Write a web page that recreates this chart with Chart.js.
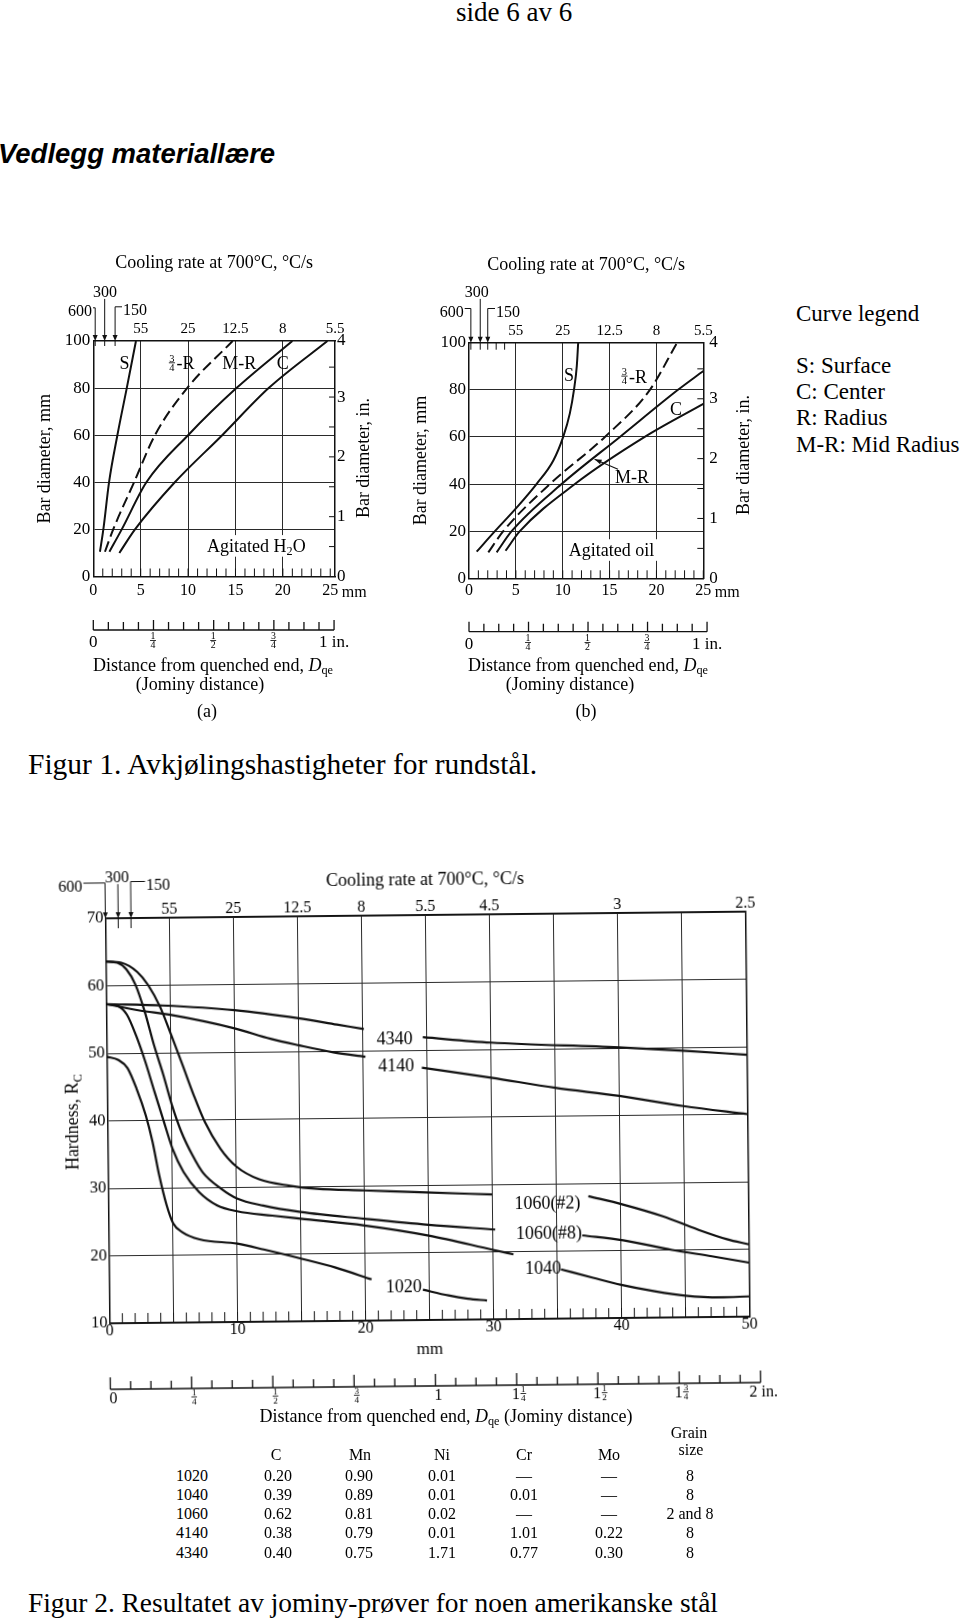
<!DOCTYPE html>
<html><head><meta charset="utf-8">
<script src="https://cdn.jsdelivr.net/npm/chart.js@4.4.0/dist/chart.umd.min.js"></script>
<style>
html,body{margin:0;padding:0;background:#fff;}
body{width:960px;height:1622px;position:relative;overflow:hidden;font-family:'Liberation Serif','Times New Roman',serif;color:#000;}
.t{position:absolute;white-space:nowrap;line-height:1;}
.c{transform:translateX(-50%);}
canvas{position:absolute;}
sub{font-size:68%;vertical-align:-0.25em;line-height:0;}
</style></head><body>

<div class="t" style="left:456px;top:-1px;font-size:27px;">side 6 av 6</div>
<div class="t" style="left:-2px;top:140px;font-size:27.5px;font-family:'Liberation Sans',Arial,sans-serif;font-weight:bold;font-style:italic;">Vedlegg materiallære</div>

<div class="t" style="left:796px;top:302px;font-size:23px;">Curve legend</div>
<div class="t" style="left:796px;top:354px;font-size:23px;">S: Surface</div>
<div class="t" style="left:796px;top:380px;font-size:23px;">C: Center</div>
<div class="t" style="left:796px;top:406px;font-size:23px;">R: Radius</div>
<div class="t" style="left:796px;top:433px;font-size:23px;">M-R: Mid Radius</div>

<canvas id="ca" width="390" height="420" style="left:0px;top:240px;"></canvas>
<canvas id="cb" width="390" height="420" style="left:380px;top:240px;"></canvas>

<div class="t c" style="left:213px;top:656px;font-size:18px;">Distance from quenched end, <i>D</i><sub>qe</sub></div>
<div class="t c" style="left:200px;top:675px;font-size:18px;">(Jominy distance)</div>
<div class="t c" style="left:207px;top:702px;font-size:18px;">(a)</div>
<div class="t c" style="left:588px;top:656px;font-size:18px;">Distance from quenched end, <i>D</i><sub>qe</sub></div>
<div class="t c" style="left:570px;top:675px;font-size:18px;">(Jominy distance)</div>
<div class="t c" style="left:586px;top:702px;font-size:18px;">(b)</div>

<div class="t" style="left:28px;top:750px;font-size:29.5px;">Figur 1. Avkjølingshastigheter for rundstål.</div>

<canvas id="cj" width="800" height="580" style="left:0px;top:840px;transform-origin:427.5px 277.5px;transform:rotate(-0.6deg);"></canvas>
<div class="t c" style="left:446px;top:1407px;font-size:18px;">Distance from quenched end, <i>D</i><sub>qe</sub> (Jominy distance)</div>

<div id="tbl"></div>

<div class="t" style="left:28px;top:1590px;font-size:27.4px;">Figur 2. Resultatet av jominy-prøver for noen amerikanske stål</div>

<script>
// ---------------- DATA ----------------
// Figure 1(a): agitated water. [Jominy distance mm, bar diameter mm]
const aS  = [[0.7,10.5],[1.06,20],[1.66,40],[2.54,60],[3.53,80],[4.5,100]];
const aQR = [[1.23,10.5],[2.1,20],[4.3,40],[6.5,60],[9.9,80],[14.7,100]];
const aMR = [[1.7,10.5],[3.0,20],[5.6,40],[10.0,60],[15.1,80],[21.0,100]];
const aC  = [[2.75,10],[4.4,20],[8.6,40],[13.6,60],[18.5,80],[24.7,100]];
// Figure 1(b): agitated oil
const bS  = [[0.82,11.3],[2.77,20],[5.08,30],[7.2,40],[9.0,50],[10.05,60],[10.76,70],[11.2,80],[11.5,90],[11.65,100]];
const bQR = [[2.06,11],[3.66,20],[8.63,40],[14.5,60],[19.3,80],[22.2,100]];
const bMR = [[2.95,11],[4.55,20],[9.88,40],[16.1,60],[22.3,80],[25,88]];
const bC  = [[3.9,11.7],[5.43,20],[11.3,40],[18.75,60],[25,74]];
// Figure 1 tick labels
const xTicks1 = [0,5,10,15,20,25];
const yTicks1 = [0,20,40,60,80,100];
const coolLab1 = ['55','25','12.5','8','5.5'];
const coolPosA = [5,10,15,20,25.5];
const coolPosB = [5,10,15,20,25];
const inchLab1 = ['0','1','2','3','4'];

// Figure 2: Jominy curves [distance mm, hardness HRC]; null = label gap
const j4340 = [[0,57.3],[4.4,57.0],[10,56.2],[15,54.9],[18,53.9],[20.1,53.2],[22.4,null],[24.7,51.9],[30,51.0],[40,50.1],[45,49.5],[50,48.8]];
const j4140 = [[0,57.3],[2.6,56.3],[5,55.6],[10,53.5],[12.8,51.9],[15,50.9],[17.7,49.8],[20.2,49.1],[22.4,null],[24.6,47.4],[30,45.8],[35,44.2],[40,42.9],[45,41.3],[50,40.0]];
const j1060n2 = [[0,63.6],[1.2,63.4],[2.45,62.0],[3.3,60.0],[4.2,56.8],[5.05,52.6],[5.9,48.2],[6.75,43.7],[7.6,39.7],[8.8,35.7],[10.05,33.0],[11.8,31.1],[14.2,30.1],[16.3,29.6],[20,29.3],[24.8,28.9],[30,28.5],[34,null],[37.5,28.1],[40.2,26.8],[43.3,25.0],[46,23.0],[48.3,21.5],[50,20.7]];
const j1060n8 = [[0,63.6],[0.9,63.4],[1.6,62.4],[2.3,60.1],[3.0,56.1],[3.7,51.1],[4.4,46.7],[5.05,42.2],[5.75,38.3],[6.6,34.8],[7.4,32.2],[8.8,29.8],[10.05,28.3],[12.1,27.2],[15,26.2],[20,25.1],[25,24.1],[30.2,23.3],[34,null],[37,22.3],[40.2,21.5],[44,20.0],[47.1,19.0],[50,18.0]];
const j1040 = [[0,57.3],[0.9,57.0],[1.6,55.7],[2.3,52.6],[3.0,48.7],[3.7,44.2],[4.4,39.8],[5.05,35.8],[5.9,32.3],[7.1,29.3],[8.5,27.3],[10.05,26.4],[12.8,25.7],[15,25.2],[20,24.1],[25,22.5],[30,20.3],[31.6,19.6],[33.5,null],[35.3,17.3],[37.8,16.0],[40,14.9],[42.6,13.9],[45,13.2],[47.7,12.9],[50,13.0]];
const j1020 = [[0,49.5],[0.9,49.0],[1.6,47.8],[2.3,44.7],[3.0,40.7],[3.5,36.8],[4.0,31.8],[4.55,27.4],[5.05,24.7],[5.75,23.4],[7.1,22.3],[10.05,21.6],[12.1,20.7],[15,19.3],[17.7,17.9],[20.5,16.1],[22.5,null],[24.5,14.5],[26.5,13.6],[28,13.1],[29.5,12.8]];
const xTicksJ = [0,5,10,15,20,25,30,35,40,45,50];
const yTicksJ = [10,20,30,40,50,60,70];
const coolPosJ = [5,10,15,20,25,30,40,50];
const coolLabJ = ['55','25','12.5','8','5.5','4.5','3','2.5'];

// Composition table
const steels = ['1020','1040','1060','4140','4340'];
const pctC  = ['0.20','0.39','0.62','0.38','0.40'];
const pctMn = ['0.90','0.89','0.81','0.79','0.75'];
const pctNi = ['0.01','0.01','0.02','0.01','1.71'];
const pctCr = ['—','0.01','—','1.01','0.77'];
const pctMo = ['—','—','—','0.22','0.30'];
const grain = ['8','8','2 and 8','8','8'];

// ---------------- HELPERS ----------------
const SERIF = "'Liberation Serif','Times New Roman',serif";
const INK = '#111';
const GRID = '#2a2a2a';
const F = (s, lh) => ({family: SERIF, size: s, lineHeight: lh || 1.2});
const xy = arr => arr.map(p => ({x: p[0], y: p[1]}));
const fixW = w => s => { s.width = w; };
const fixH = h => s => { s.height = h; };
const setTicks = vals => s => { s.ticks = vals.map(v => ({value: v})); };
const gridAt = vals => c => (c.tick && vals.indexOf(c.tick.value) >= 0) ? GRID : 'rgba(0,0,0,0)';
function ds(arr, dash, w) {
  return {data: xy(arr), borderColor: INK, borderWidth: w || 2, borderDash: dash || [], pointRadius: 0,
    fill: false, cubicInterpolationMode: 'monotone', spanGaps: false, xAxisID: 'x', yAxisID: 'y'};
}
const range = (a, b, s) => { const r = []; for (let v = a; v <= b + 1e-9; v += s) r.push(+v.toFixed(4)); return r; };
const FR = (n, d) => ({f: [n, d]});

function measureSegs(ctx, segs, size, fam) {
  let w = 0; const parts = [];
  segs.forEach(sg => {
    if (typeof sg === 'string') { ctx.font = size + 'px ' + fam; const ww = ctx.measureText(sg).width; parts.push({k: 't', t: sg, w: ww, font: ctx.font}); w += ww; }
    else if (sg.sub) { ctx.font = (size * 0.68) + 'px ' + fam; const ww = ctx.measureText(sg.t).width; parts.push({k: 's', t: sg.t, w: ww, font: ctx.font}); w += ww; }
    else if (sg.f) { const fs = size * 0.58; ctx.font = fs + 'px ' + fam; const ww = Math.max(ctx.measureText(sg.f[0]).width, ctx.measureText(sg.f[1]).width) + 2; parts.push({k: 'f', n: sg.f[0], d: sg.f[1], w: ww, font: ctx.font, fs: fs}); w += ww + 1; }
  });
  return {w, parts};
}
function drawRich(ctx, segs, x, y, o) {
  o = o || {};
  const size = o.size || 18, fam = o.fam || SERIF;
  const list = typeof segs === 'string' ? [segs] : segs;
  ctx.save();
  ctx.translate(x, y); if (o.rot) ctx.rotate(o.rot);
  const m = measureSegs(ctx, list, size, fam);
  let x0 = -m.w / 2;
  if (o.align === 'left') x0 = 0; else if (o.align === 'right') x0 = -m.w; else if (o.align === 'first') x0 = -m.parts[0].w / 2;
  const yb = size * 0.33;
  if (o.bg) { ctx.fillStyle = '#fff'; ctx.fillRect(x0 - 4, -size * 0.6, m.w + 8, size * 1.2); }
  ctx.fillStyle = '#000'; ctx.textBaseline = 'alphabetic'; ctx.textAlign = 'left';
  let cx = x0;
  m.parts.forEach(p => {
    ctx.font = p.font;
    if (p.k === 't') ctx.fillText(p.t, cx, yb);
    else if (p.k === 's') ctx.fillText(p.t, cx, yb + size * 0.2);
    else {
      const bar = yb - size * 0.36;
      const w1 = ctx.measureText(p.n).width, w2 = ctx.measureText(p.d).width;
      ctx.fillText(p.n, cx + (p.w - w1) / 2, bar - p.fs * 0.12);
      ctx.fillText(p.d, cx + (p.w - w2) / 2, bar + p.fs * 0.12 + p.fs * 0.68);
      ctx.fillRect(cx + 0.5, bar - 0.4, p.w - 1, 0.8);
      cx += 1;
    }
    cx += p.w;
  });
  ctx.restore();
}

// decoration plugin (config kept in a closure, not in Chart.js options)
function makeDeco(o) {
  return {
    id: 'deco',
    afterDraw(chart) {
      const ctx = chart.ctx, ca = chart.chartArea;
      ctx.save();
      ctx.strokeStyle = INK; ctx.fillStyle = INK;
      (o.inTicks || []).forEach(t => {
        const sc = chart.scales[t.axis];
        ctx.lineWidth = t.w || 1;
        ctx.beginPath();
        t.values.forEach(v => {
          const p = sc.getPixelForValue(v);
          if (t.edge === 'bottom') { ctx.moveTo(p, ca.bottom); ctx.lineTo(p, ca.bottom - t.len); }
          else if (t.edge === 'top') { ctx.moveTo(p, ca.top); ctx.lineTo(p, ca.top + t.len); }
          else if (t.edge === 'right') { ctx.moveTo(ca.right, p); ctx.lineTo(ca.right - t.len, p); }
        });
        ctx.stroke();
      });
      if (o.ruler) {
        const r = o.ruler, sc = chart.scales.x;
        const X = v => sc.getPixelForValue(v * 25.4);
        ctx.lineWidth = 1.3;
        ctx.beginPath(); ctx.moveTo(X(0), r.y); ctx.lineTo(X(r.max), r.y);
        for (let i = 0; i <= r.max * 16; i++) { const L = (i % 4 === 0) ? r.big : r.small; ctx.moveTo(X(i / 16), r.y); ctx.lineTo(X(i / 16), r.y - L); }
        ctx.stroke();
        r.labels.forEach(l => drawRich(ctx, l.s, X(l.v) + (r.ldx || 0), r.ly, {size: r.size, align: l.align}));
      }
      (o.arrows || []).forEach(a => {
        const X = chart.scales.x.getPixelForValue(a.v);
        drawRich(ctx, a.text, a.tx, a.ty, {size: a.size});
        ctx.font = a.size + 'px ' + SERIF; const tw = ctx.measureText(a.text).width;
        ctx.lineWidth = 1; ctx.beginPath();
        if (a.kind === 'up') ctx.moveTo(X, a.ty + a.size * 0.45);
        else if (a.kind === 'left') { const yy = a.ty - a.size * 0.2; ctx.moveTo(a.tx + tw / 2 + 1, yy); ctx.lineTo(X, yy); }
        else { const yy = a.ty - a.size * 0.2; ctx.moveTo(a.tx - tw / 2 - 1, yy); ctx.lineTo(X, yy); }
        ctx.lineTo(X, ca.top - 4); ctx.stroke();
        ctx.beginPath(); ctx.moveTo(X, ca.top); ctx.lineTo(X - 2.5, ca.top - 6); ctx.lineTo(X + 2.5, ca.top - 6); ctx.closePath(); ctx.fill();
      });
      (o.leaders || []).forEach(l => {
        const sx = chart.scales.x, sy = chart.scales.y;
        const x1 = sx.getPixelForValue(l.x1), y1 = sy.getPixelForValue(l.y1), x2 = sx.getPixelForValue(l.x2), y2 = sy.getPixelForValue(l.y2);
        ctx.lineWidth = 1.1; ctx.beginPath(); ctx.moveTo(x1, y1); ctx.lineTo(x2, y2); ctx.stroke();
        const ang = Math.atan2(y2 - y1, x2 - x1);
        ctx.beginPath(); ctx.moveTo(x1, y1);
        ctx.lineTo(x1 + 7 * Math.cos(ang) - 2.5 * Math.sin(ang), y1 + 7 * Math.sin(ang) + 2.5 * Math.cos(ang));
        ctx.lineTo(x1 + 7 * Math.cos(ang) + 2.5 * Math.sin(ang), y1 + 7 * Math.sin(ang) - 2.5 * Math.cos(ang));
        ctx.closePath(); ctx.fill();
      });
      (o.notes || []).forEach(n => {
        const px = (n.px !== undefined) ? n.px : chart.scales.x.getPixelForValue(n.x) + (n.dx || 0);
        const py = (n.py !== undefined) ? n.py : chart.scales.y.getPixelForValue(n.y) + (n.dy || 0);
        drawRich(ctx, n.s, px, py, {size: n.size || 18, align: n.align, bg: n.bg, rot: n.rot});
      });
      ctx.restore();
    }
  };
}

function fig1(id, d, g) {
  return new Chart(document.getElementById(id), {
    type: 'line',
    data: {datasets: [ds(d[0]), ds(d[1], [11, 5]), ds(d[2]), ds(d[3])]},
    options: {
      responsive: false, animation: false, events: [],
      layout: {padding: {left: 0, right: 0, top: 0, bottom: g.padB}},
      plugins: {legend: {display: false}, tooltip: {enabled: false}},
      scales: {
        x: {type: 'linear', position: 'bottom', min: 0, max: g.xmax, afterBuildTicks: setTicks(xTicks1), afterFit: fixH(30),
          ticks: {font: F(16), color: '#000', padding: g.xPad, maxRotation: 0, autoSkip: false, callback: v => String(v)},
          grid: {color: gridAt([5, 10, 15, 20]), drawTicks: false, lineWidth: 1}, border: {color: INK, width: 1.5}},
        x2: {type: 'linear', position: 'top', min: 0, max: g.xmax, afterBuildTicks: setTicks(g.coolPos), afterFit: fixH(g.topH),
          ticks: {font: F(15), color: '#000', padding: 2.5, maxRotation: 0, autoSkip: false, callback: (v, i) => coolLab1[i]},
          grid: {drawOnChartArea: false, drawTicks: false}, border: {color: INK, width: 1.5},
          title: {display: true, text: 'Cooling rate at 700°C, °C/s', color: '#000', font: F(18), padding: {top: g.titlePad, bottom: 0}}},
        y: {type: 'linear', position: 'left', min: 0, max: 100, afterBuildTicks: setTicks(yTicks1), afterFit: fixW(g.leftW),
          ticks: {font: F(17), color: '#000', padding: 3, autoSkip: false},
          grid: {color: gridAt([20, 40, 60, 80]), drawTicks: false, lineWidth: 1}, border: {color: INK, width: 1.5},
          title: {display: true, text: 'Bar diameter, mm', color: '#000', font: F(18), padding: {top: g.yTitlePad, bottom: 0}}},
        y2: {type: 'linear', position: 'right', min: 0, max: 100 / 25.4, afterBuildTicks: setTicks([0, 1, 2, 3, 100 / 25.4]), afterFit: fixW(g.rightW),
          ticks: {font: F(17), color: '#000', padding: g.rPad, autoSkip: false, callback: (v, i) => inchLab1[i]},
          grid: {drawOnChartArea: false, drawTicks: false}, border: {color: INK, width: 1.5}}
      }
    },
    plugins: [makeDeco(g.deco)]
  });
}

const halfIn = [0.5, 1, 1.5, 2, 2.5, 3, 3.5];
const rulerLabels1 = [{v: 0, s: '0'}, {v: 0.25, s: [FR('1', '4')]}, {v: 0.5, s: [FR('1', '2')]}, {v: 0.75, s: [FR('3', '4')]}, {v: 1, s: '1 in.', align: 'first'}];

fig1('ca', [aS, aQR, aMR, aC], {
  xmax: 25.5, coolPos: coolPosA, padB: 53.5, xPad: 5, topH: 101, titlePad: 12.5, leftW: 93.3, yTitlePad: 34.2, rightW: 55, rPad: 2,
  deco: {
    inTicks: [{axis: 'x', edge: 'bottom', values: range(1, 25, 1), len: 8}, {axis: 'y2', edge: 'right', values: halfIn, len: 6}, {axis: 'x', edge: 'top', values: [0.2, 1.2, 2.3], len: 5}],
    ruler: {y: 390, max: 1, small: 8, big: 10, ly: 401, size: 17, labels: rulerLabels1},
    arrows: [{v: 0.2, text: '600', tx: 80, ty: 71, size: 16, kind: 'left'}, {v: 1.2, text: '300', tx: 105, ty: 51.7, size: 16, kind: 'up'}, {v: 2.3, text: '150', tx: 135, ty: 70, size: 16, kind: 'right'}],
    notes: [
      {x: 3.3, y: 90.5, s: 'S'}, {x: 9.3, y: 90.5, s: [FR('3', '4'), '-R']}, {x: 15.4, y: 90.5, s: 'M-R'}, {x: 20, y: 90.5, s: 'C'},
      {x: 17.2, y: 13, s: ['Agitated H', {sub: true, t: '2'}, 'O'], bg: true},
      {x: 25, dx: 24, py: 351.7, s: 'mm', size: 16},
      {px: 363.3, py: 218, s: 'Bar diameter, in.', rot: -Math.PI / 2}
    ]
  }
});

fig1('cb', [bS, bQR, bMR, bC], {
  xmax: 25, coolPos: coolPosB, padB: 51.7, xPad: 3.2, topH: 102.7, titlePad: 14.2, leftW: 89, yTitlePad: 30.9, rightW: 66.7, rPad: 6,
  deco: {
    inTicks: [{axis: 'x', edge: 'bottom', values: range(1, 25, 1), len: 8}, {axis: 'y2', edge: 'right', values: halfIn, len: 6}, {axis: 'x', edge: 'top', values: [0.2, 1.2, 2.0, 2.9, 3.8], len: 7}],
    ruler: {y: 391.7, max: 1, small: 8, big: 10, ly: 403, size: 17, labels: rulerLabels1},
    arrows: [{v: 0.2, text: '600', tx: 71.7, ty: 71.7, size: 16, kind: 'left'}, {v: 1.2, text: '300', tx: 96.7, ty: 51.7, size: 16, kind: 'up'}, {v: 2.0, text: '150', tx: 128, ty: 71.7, size: 16, kind: 'right'}],
    leaders: [{x1: 13.4, y1: 50.5, x2: 15.9, y2: 46.3}],
    notes: [
      {x: 10.66, y: 86.3, s: 'S'}, {x: 17.6, y: 85.6, s: [FR('3', '4'), '-R']}, {x: 22.1, y: 71.9, s: 'C'}, {x: 17.4, y: 43.1, s: 'M-R'},
      {x: 15.2, y: 12, s: 'Agitated oil', bg: true},
      {x: 25, dx: 24, py: 351.7, s: 'mm', size: 16},
      {px: 362.7, py: 215, s: 'Bar diameter, in.', rot: -Math.PI / 2}
    ]
  }
});

// ---------------- FIGURE 2 ----------------
new Chart(document.getElementById('cj'), {
  type: 'line',
  data: {datasets: [ds(j4340, null, 2.2), ds(j4140, null, 2.2), ds(j1060n2, null, 2.2), ds(j1060n8, null, 2.2), ds(j1040, null, 2.2), ds(j1020, null, 2.2)]},
  options: {
    responsive: false, animation: false, events: [],
    layout: {padding: {left: 0, right: 0, top: 0, bottom: 59.8}},
    plugins: {legend: {display: false}, tooltip: {enabled: false}},
    scales: {
      x: {type: 'linear', position: 'bottom', min: 0, max: 50, afterBuildTicks: setTicks(xTicksJ), afterFit: fixH(40.2),
        ticks: {font: F(16, 1), color: '#000', padding: 0, maxRotation: 0, autoSkip: false, callback: v => (v % 10 === 0 ? String(v) : '')},
        grid: {color: GRID, drawTicks: false, lineWidth: 1}, border: {color: INK, width: 1.5},
        title: {display: true, text: 'mm', color: '#000', font: F(17), padding: {top: 0, bottom: 0}}},
      x2: {type: 'linear', position: 'top', min: 0, max: 50, afterBuildTicks: setTicks(coolPosJ), afterFit: fixH(75),
        ticks: {font: F(16, 1), color: '#000', padding: 0, maxRotation: 0, autoSkip: false, callback: (v, i) => coolLabJ[i]},
        grid: {drawOnChartArea: false, drawTicks: false}, border: {color: INK, width: 1.5},
        title: {display: true, text: 'Cooling rate at 700°C, °C/s', color: '#000', font: F(18), padding: {top: 29.2, bottom: 0}}},
      y: {type: 'linear', position: 'left', min: 10, max: 70, afterBuildTicks: setTicks(yTicksJ), afterFit: fixW(107.5),
        ticks: {font: F(16.5), color: '#000', padding: 2, autoSkip: false},
        grid: {color: GRID, drawTicks: false, lineWidth: 1}, border: {color: INK, width: 1.5}},
      y2: {type: 'linear', position: 'right', min: 10, max: 70, afterBuildTicks: setTicks(yTicksJ), afterFit: fixW(52.5),
        ticks: {display: false}, grid: {drawOnChartArea: false, drawTicks: false}, border: {color: INK, width: 1.5}}
    }
  },
  plugins: [makeDeco({
    inTicks: [{axis: 'x', edge: 'bottom', values: range(1, 49, 1), len: 10}, {axis: 'x', edge: 'top', values: [1.0, 2.0], len: 10}],
    ruler: {y: 546, max: 2, small: 8, big: 12, ly: 555, ldx: 3, size: 16, labels: [
      {v: 0, s: '0'}, {v: 0.25, s: [FR('1', '4')]}, {v: 0.5, s: [FR('1', '2')]}, {v: 0.75, s: [FR('3', '4')]}, {v: 1, s: '1'},
      {v: 1.25, s: ['1', FR('1', '4')]}, {v: 1.5, s: ['1', FR('1', '2')]}, {v: 1.75, s: ['1', FR('3', '4')]}, {v: 2, s: '2 in.', align: 'first'}]},
    arrows: [{v: 0, text: '600', tx: 72.8, ty: 42.8, size: 16, kind: 'left'}, {v: 1.0, text: '300', tx: 119.5, ty: 33.7, size: 16, kind: 'up'}, {v: 2.0, text: '150', tx: 160.5, ty: 41.7, size: 16, kind: 'right'}],
    notes: [
      {x: 22.5, y: 51.8, s: '4340'}, {x: 22.6, y: 47.7, s: '4140'}, {x: 34.3, y: 27.2, s: '1060(#2)'}, {x: 34.4, y: 22.8, s: '1060(#8)'},
      {x: 33.9, y: 17.6, s: '1040'}, {x: 23.0, y: 15.0, s: '1020'},
      {px: 72.4, py: 278.3, s: ['Hardness, R', {sub: true, t: 'C'}], rot: -Math.PI / 2}
    ]
  })]
});

// ---------------- TABLE ----------------
(function () {
  const tbl = document.getElementById('tbl');
  const cols = [192, 278, 359, 442, 524, 609, 690];
  const rowsY = [1477, 1496, 1515, 1534, 1553.5];
  const fs = 16;
  const put = (txt, cx, cy) => {
    const d = document.createElement('div');
    d.className = 't c'; d.style.left = cx + 'px'; d.style.top = (cy - 0.55 * fs) + 'px'; d.style.fontSize = fs + 'px';
    d.textContent = txt; tbl.appendChild(d);
  };
  put('Grain', 689, 1434); put('size', 691, 1451);
  ['C', 'Mn', 'Ni', 'Cr', 'Mo'].forEach((h, i) => put(h, [276, 360, 442, 524, 609][i], 1455.5));
  const colsData = [steels, pctC, pctMn, pctNi, pctCr, pctMo, grain];
  rowsY.forEach((y, r) => colsData.forEach((col, c) => put(col[r], cols[c], y)));
})();
</script>
</body></html>
